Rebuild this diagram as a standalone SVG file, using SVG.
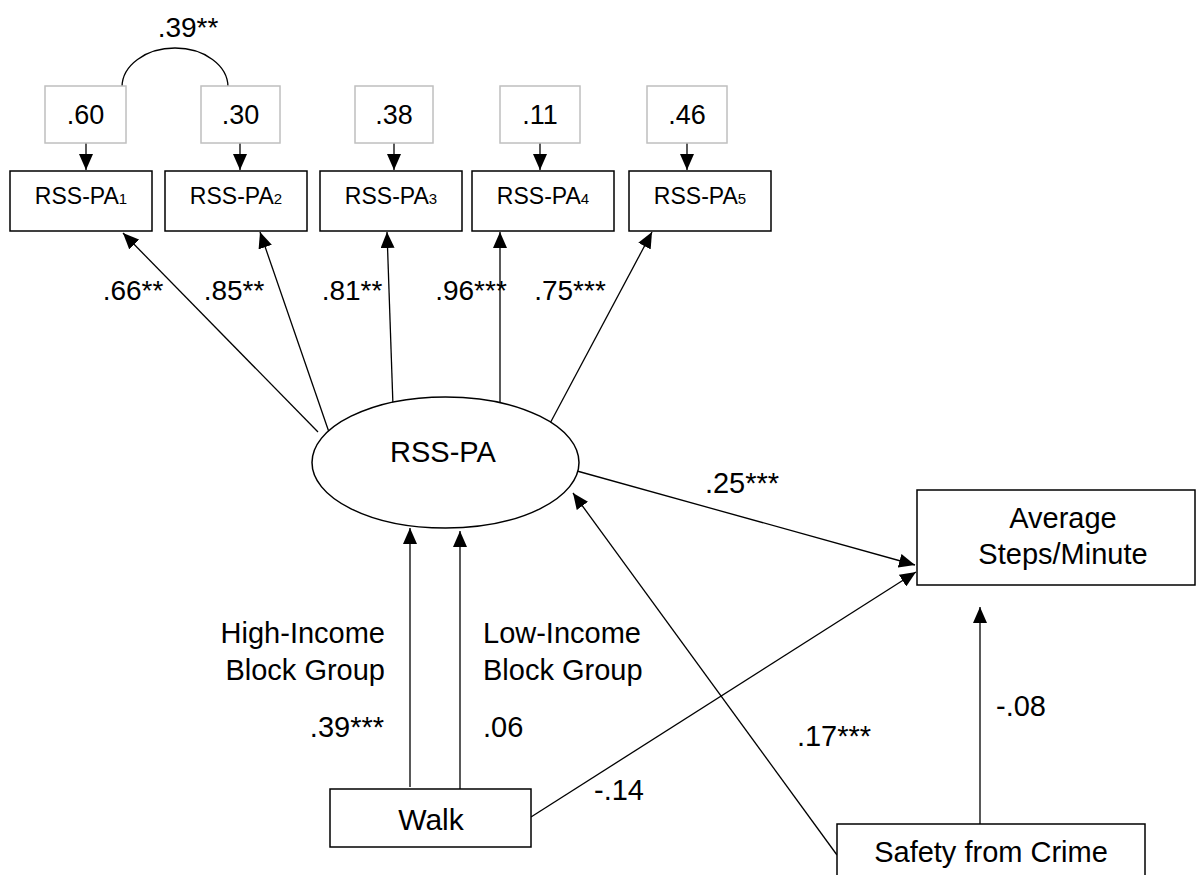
<svg xmlns="http://www.w3.org/2000/svg" width="1198" height="875" viewBox="0 0 1198 875">
<style>
text{font-family:"Liberation Sans",Arial,sans-serif;fill:#000}
.box{fill:#fff;stroke:#000;stroke-width:1.5}
.err{fill:#fff;stroke:#bfbfbf;stroke-width:1.5}
.ln{stroke:#000;stroke-width:1.3;fill:none}
.ind{font-size:23px;text-anchor:middle}
.sub{font-size:15px}
.ev{font-size:27px;text-anchor:middle}
.ld{font-size:28px;text-anchor:middle}
.lb{font-size:29px}
.mid{text-anchor:middle}
.end{text-anchor:end}
</style>
<defs>
<marker id="ah" viewBox="0 0 16 14" markerWidth="16" markerHeight="14" refX="16" refY="7" orient="auto" markerUnits="userSpaceOnUse">
<path d="M0,0 L16,7 L0,14 z" fill="#000"/>
</marker>
</defs>
<g id="connectors">
<path class="ln" d="M122,87 A53,39 0 0 1 228,87"/>
<line class="ln" x1="86" y1="143" x2="86" y2="170" marker-end="url(#ah)"/>
<line class="ln" x1="240" y1="143" x2="240" y2="170" marker-end="url(#ah)"/>
<line class="ln" x1="394" y1="143" x2="394" y2="170" marker-end="url(#ah)"/>
<line class="ln" x1="540" y1="143" x2="540" y2="170" marker-end="url(#ah)"/>
<line class="ln" x1="687" y1="143" x2="687" y2="170" marker-end="url(#ah)"/>
<line class="ln" x1="318" y1="432" x2="123" y2="233" marker-end="url(#ah)"/>
<line class="ln" x1="331" y1="438" x2="260" y2="232" marker-end="url(#ah)"/>
<line class="ln" x1="393" y1="406" x2="387" y2="232" marker-end="url(#ah)"/>
<line class="ln" x1="500" y1="404" x2="500" y2="232" marker-end="url(#ah)"/>
<line class="ln" x1="547" y1="429" x2="652" y2="232" marker-end="url(#ah)"/>
<line class="ln" x1="577" y1="471" x2="915" y2="565" marker-end="url(#ah)"/>
<line class="ln" x1="531" y1="817" x2="916" y2="572" marker-end="url(#ah)"/>
<line class="ln" x1="410" y1="787" x2="410" y2="528" marker-end="url(#ah)"/>
<line class="ln" x1="460" y1="789" x2="460" y2="531" marker-end="url(#ah)"/>
<line class="ln" x1="837" y1="855" x2="573" y2="493" marker-end="url(#ah)"/>
<line class="ln" x1="980" y1="824" x2="980" y2="607" marker-end="url(#ah)"/>
</g>
<g id="labels">
<text class="ld" x="188" y="37">.39**</text>
<text class="ld" x="133" y="300">.66**</text>
<text class="ld" x="234" y="300">.85**</text>
<text class="ld" x="352" y="300">.81**</text>
<text class="ld" x="471" y="300">.96***</text>
<text class="ld" x="570" y="300">.75***</text>
<text class="lb mid" x="742" y="493">.25***</text>
<text class="lb end" x="385" y="643">High-Income</text>
<text class="lb end" x="385" y="680">Block Group</text>
<text class="lb end" x="384" y="737">.39***</text>
<text class="lb" x="483" y="643">Low-Income</text>
<text class="lb" x="483" y="680">Block Group</text>
<text class="lb" x="483" y="737">.06</text>
<text class="lb" x="594" y="800">-.14</text>
<text class="lb mid" x="834" y="746">.17***</text>
<text class="lb" x="996" y="716">-.08</text>
</g>
<g id="e1"><rect class="err" x="45" y="86" width="81" height="57"/><text class="ev" x="85.5" y="124">.60</text></g>
<g id="e2"><rect class="err" x="201" y="86" width="79" height="57"/><text class="ev" x="240.5" y="124">.30</text></g>
<g id="e3"><rect class="err" x="355" y="86" width="78" height="57"/><text class="ev" x="394" y="124">.38</text></g>
<g id="e4"><rect class="err" x="500" y="86" width="80" height="57"/><text class="ev" x="540" y="124">.11</text></g>
<g id="e5"><rect class="err" x="647" y="86" width="80" height="57"/><text class="ev" x="687" y="124">.46</text></g>
<g id="i1"><rect class="box" x="10" y="171" width="142" height="60"/><text class="ind" x="81" y="204">RSS-PA<tspan class="sub">1</tspan></text></g>
<g id="i2"><rect class="box" x="165" y="171" width="142" height="60"/><text class="ind" x="236" y="204">RSS-PA<tspan class="sub">2</tspan></text></g>
<g id="i3"><rect class="box" x="320" y="171" width="142" height="60"/><text class="ind" x="391" y="204">RSS-PA<tspan class="sub">3</tspan></text></g>
<g id="i4"><rect class="box" x="472" y="171" width="142" height="60"/><text class="ind" x="543" y="204">RSS-PA<tspan class="sub">4</tspan></text></g>
<g id="i5"><rect class="box" x="629" y="171" width="142" height="60"/><text class="ind" x="700" y="204">RSS-PA<tspan class="sub">5</tspan></text></g>
<g id="latent"><ellipse class="box" cx="445.5" cy="462.5" rx="133.5" ry="65.5"/><text class="lb mid" x="443" y="462">RSS-PA</text></g>
<g id="steps"><rect class="box" x="917" y="490" width="278" height="95"/><text class="lb mid" x="1063" y="528">Average</text><text class="lb mid" x="1063" y="564">Steps/Minute</text></g>
<g id="walk"><rect class="box" x="330" y="789" width="201" height="58"/><text class="mid" style="font-size:30px" x="431" y="830">Walk</text></g>
<g id="safety"><rect class="box" x="837" y="824" width="308" height="60"/><text class="lb mid" x="991" y="862">Safety from Crime</text></g>
</svg>
